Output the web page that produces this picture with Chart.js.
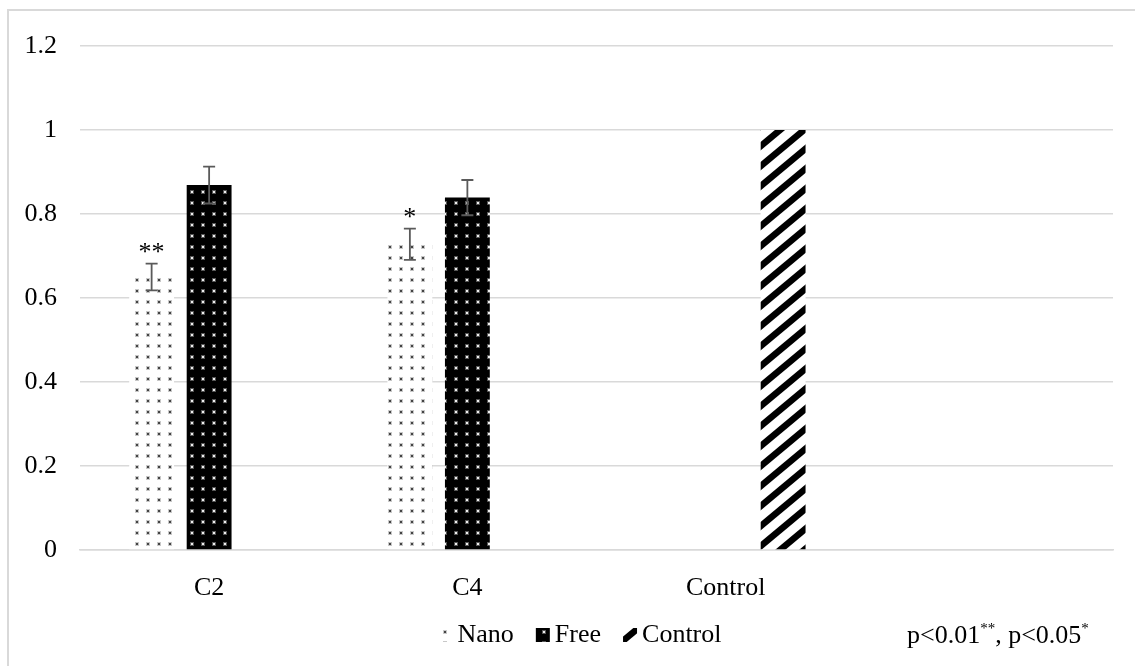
<!DOCTYPE html>
<html>
<head>
<meta charset="utf-8">
<script src="https://cdn.jsdelivr.net/npm/chart.js@4/dist/chart.umd.min.js"></script>
<style>
  html, body { margin: 0; padding: 0; background: #fff; }
  canvas { display: block; }
</style>
</head>
<body>
<canvas id="chart" width="1135" height="666"></canvas>
<script>
// ------------------------
// Data
// ------------------------
const categories = ["C2", "C4", "Control", ""];
const nanoValues = [0.65, 0.728, null, null];
const freeValues = [0.869, 0.839, null, null];
const controlValues = [null, null, 1.0, null];
const nanoErrors = [0.032, 0.037, null, null];
const freeErrors = [0.044, 0.042, null, null];
const nanoMarks = ["**", "*", "", ""];
const yTickLabels = ["0", "0.2", "0.4", "0.6", "0.8", "1", "1.2"];

const FONT = "'Liberation Serif', 'Times New Roman', serif";
const TEXT = "#000";
const GRID = "#d9d9d9";

// ------------------------
// Fill patterns
// ------------------------
function makeDots(bg, halo, dot) {
    const c = document.createElement("canvas");
    c.width = 11; c.height = 11;
    const g = c.getContext("2d");
    g.fillStyle = bg; g.fillRect(0, 0, 11, 11);
    g.fillStyle = halo; g.fillRect(3, 3, 4, 4);
    g.fillStyle = dot; g.fillRect(4, 4, 2, 2);
    return g.createPattern(c, "repeat");
}

function makeStripes() {
    const w = 24, h = 20;
    const c = document.createElement("canvas");
    c.width = w; c.height = h;
    const g = c.getContext("2d");
    g.fillStyle = "#fff"; g.fillRect(0, 0, w, h);
    g.strokeStyle = "#000"; g.lineWidth = 6.5;
    for (const dx of [-w, 0, w]) {
        g.beginPath(); g.moveTo(dx - w, 2 * h); g.lineTo(dx + 2 * w, -h); g.stroke();
    }
    return g.createPattern(c, "repeat");
}

const nanoFill = makeDots("#fff", "#c8c8c8", "#444");
const freeFill = makeDots("#000", "#555", "#eee");
const controlFill = makeStripes();

// ------------------------
// Plugins: frame, error bars, legend + note
// ------------------------
const framePlugin = {
    id: "frame",
    beforeDraw(chart) {
        const ctx = chart.ctx;
        ctx.save();
        ctx.strokeStyle = GRID; ctx.lineWidth = 2;
        ctx.strokeRect(8, 10, 2000, 2000);
        ctx.restore();
    }
};

const errorBarPlugin = {
    id: "errorBars",
    afterDatasetsDraw(chart) {
        const ctx = chart.ctx;
        const y = chart.scales.y;
        ctx.save();
        chart.data.datasets.forEach((ds, di) => {
            if (!ds.errors) return;
            const meta = chart.getDatasetMeta(di);
            meta.data.forEach((bar, i) => {
                const v = ds.data[i], e = ds.errors[i];
                if (v == null || e == null) return;
                const top = y.getPixelForValue(v + e);
                const bot = y.getPixelForValue(v - e);
                ctx.strokeStyle = "#5a5a5a"; ctx.lineWidth = 1.8;
                ctx.beginPath();
                ctx.moveTo(bar.x, top); ctx.lineTo(bar.x, bot);
                ctx.moveTo(bar.x - 6, top); ctx.lineTo(bar.x + 6, top);
                ctx.moveTo(bar.x - 6, bot); ctx.lineTo(bar.x + 6, bot);
                ctx.stroke();
                const mark = ds.marks && ds.marks[i];
                if (mark) {
                    ctx.fillStyle = TEXT;
                    ctx.font = "26px " + FONT;
                    ctx.textAlign = "center";
                    ctx.textBaseline = "alphabetic";
                    ctx.fillText(mark, bar.x, top - 4);
                }
            });
        });
        ctx.restore();
    }
};

const legendPlugin = {
    id: "patternLegend",
    afterDraw(chart) {
        const ctx = chart.ctx;
        const items = chart.data.datasets;
        ctx.save();
        ctx.font = "26px " + FONT;
        ctx.textBaseline = "alphabetic";
        ctx.textAlign = "left";
        const widths = items.map(ds => 14 + 5 + ctx.measureText(ds.label).width);
        const total = widths.reduce((a, b) => a + b, 0) + 22 * (items.length - 1);
        let x = 580 - total / 2;
        const base = 642;
        items.forEach((ds, i) => {
            ctx.fillStyle = ds.backgroundColor;
            ctx.fillRect(x, base - 14, 14, 14);
            ctx.fillStyle = TEXT;
            ctx.fillText(ds.label, x + 19, base);
            x += widths[i] + 22;
        });

        // significance note with superscripts
        const parts = [["p<0.01", false], ["**", true], [", p<0.05", false], ["*", true]];
        let px = 907;
        parts.forEach(([t, sup]) => {
            ctx.font = (sup ? "15px " : "26px ") + FONT;
            ctx.fillText(t, px, sup ? 633 : 643);
            px += ctx.measureText(t).width;
        });
        ctx.restore();
    }
};

// ------------------------
// Chart
// ------------------------
new Chart(document.getElementById("chart"), {
    type: "bar",
    data: {
        labels: categories,
        datasets: [
            { label: "Nano", data: nanoValues, errors: nanoErrors, marks: nanoMarks, backgroundColor: nanoFill, borderWidth: 0 },
            { label: "Free", data: freeValues, errors: freeErrors, backgroundColor: freeFill, borderWidth: 0 },
            { label: "Control", data: controlValues, backgroundColor: controlFill, borderWidth: 0 }
        ]
    },
    options: {
        responsive: false,
        animation: false,
        devicePixelRatio: 1,
        layout: { padding: { top: 46, right: 22, left: 0, bottom: 0 } },
        datasets: { bar: { categoryPercentage: 0.668, barPercentage: 0.78 } },
        plugins: { legend: { display: false }, tooltip: { enabled: false } },
        scales: {
            x: {
                grid: { display: false },
                border: { display: true, color: GRID, width: 1.5 },
                ticks: { font: { family: FONT, size: 26 }, color: TEXT, padding: 15, maxRotation: 0, autoSkip: false },
                afterFit(s) { s.height = 116; }
            },
            y: {
                min: 0,
                max: 1.2,
                ticks: {
                    stepSize: 0.2,
                    padding: 23,
                    font: { family: FONT, size: 26 },
                    color: TEXT,
                    callback: (v, i) => yTickLabels[i]
                },
                grid: { color: GRID, lineWidth: 1.5, drawTicks: false },
                border: { display: false },
                afterFit(s) { s.width = 80; }
            }
        }
    },
    plugins: [framePlugin, errorBarPlugin, legendPlugin]
});
</script>
</body>
</html>
